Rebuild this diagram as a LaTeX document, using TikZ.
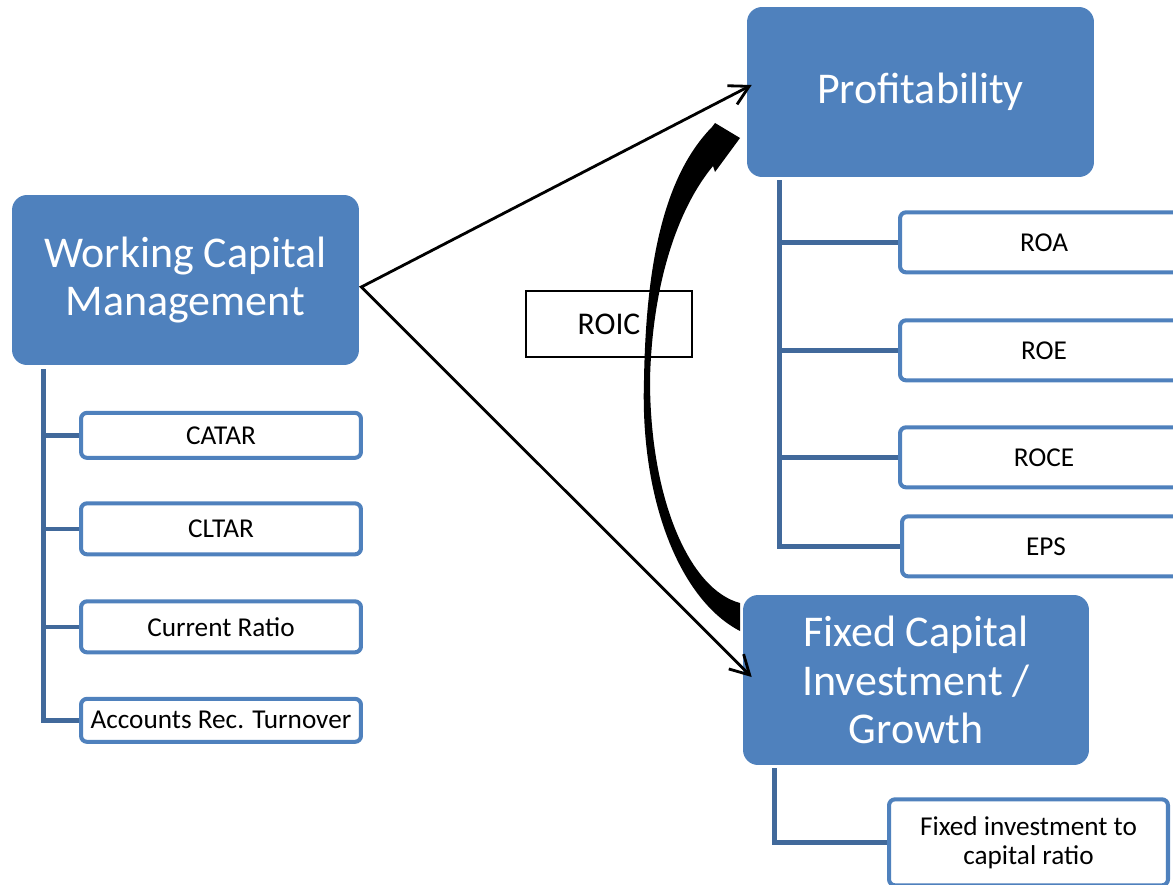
\documentclass[tikz,border=0pt]{standalone}
\usepackage{fontspec}
\setmainfont{Carlito}
\usetikzlibrary{arrows.meta, calc}
\definecolor{boxblue}{HTML}{4F81BD}
\definecolor{lineblue}{HTML}{41699B}
\tikzset{
    my-main-box/.style={
        rectangle, rounded corners=0.3cm, fill=boxblue, text=white, align=center,
        minimum width=6.94cm, minimum height=3.4cm, inner sep=0pt,
        font=\fontsize{25}{27.8}\selectfont
    },
    my-sub-box/.style={
        rectangle, rounded corners=0.12cm, draw=boxblue, line width=2.3pt, fill=white,
        align=center, inner sep=0pt, font=\fontsize{15.5}{16.5}\selectfont
    },
    my-roic-box/.style={
        rectangle, draw=black, line width=1pt, inner sep=0pt,
        minimum width=3.32cm, minimum height=1.32cm, font=\fontsize{18}{20}\selectfont
    },
    my-tree-line/.style={
        draw=lineblue, line width=2.5pt
    },
    my-link-arrow/.style={
        line width=1.6pt, line join=miter,
        {Straight Barb[length=3.8mm, width=4.2mm]}-{Straight Barb[length=3.8mm, width=4.2mm]}
    },
}
\begin{document}
\begin{tikzpicture}[x=0.02cm, y=-0.02cm]

        % PAGE
        \useasboundingbox (0, 0) rectangle (1173, 885);
        \clip (0, 0) rectangle (1173, 885);

        % MAIN BOXES
        \node[my-main-box]                      (WCM)  at (185.5, 280) {Working Capital\\Management};
        \node[my-main-box]                      (PROF) at (920.5, 92)  {Profitability};
        \node[my-main-box, minimum width=6.92cm] (FCI)  at (916, 680)   {Fixed Capital\\Investment /\\Growth};

        % WORKING CAPITAL RATIOS
        \node[my-sub-box, minimum width=5.6cm, minimum height=0.9cm]  (CATAR)  at ($(WCM.south) + (35.5, 70)$) {CATAR};
        \node[my-sub-box, minimum width=5.6cm, minimum height=1.02cm] (CLTAR)  at ($(CATAR) + (0, 93.5)$)      {CLTAR};
        \node[my-sub-box, minimum width=5.6cm, minimum height=1.02cm] (CURR)   at ($(CLTAR) + (0, 98)$)        {Current Ratio};
        \node[my-sub-box, minimum width=5.6cm, minimum height=0.86cm] (ACCREC) at ($(CURR) + (0, 93.5)$)       {Accounts Rec. Turnover};

        % PROFITABILITY RATIOS
        \node[my-sub-box, minimum width=5.76cm, minimum height=1.2cm] (ROA)  at ($(PROF.south) + (123.5, 65)$) {ROA};
        \node[my-sub-box, minimum width=5.76cm, minimum height=1.2cm] (ROE)  at ($(ROA) + (0, 108)$)           {ROE};
        \node[my-sub-box, minimum width=5.76cm, minimum height=1.2cm] (ROCE) at ($(ROE) + (0, 107)$)           {ROCE};
        \node[my-sub-box, minimum width=5.76cm, minimum height=1.2cm] (EPS)  at ($(ROCE) + (2, 89)$)           {EPS};

        % GROWTH RATIO
        \node[my-sub-box, minimum width=5.58cm, minimum height=1.72cm] (FIX) at ($(FCI.south) + (112.5, 77)$) {Fixed investment to\\capital ratio};

        % TREE LINES - WORKING CAPITAL
        \coordinate (WCMTRUNK) at ($(WCM.south west) + (32, 4)$);
        \draw[my-tree-line] (WCMTRUNK) |- (ACCREC.west);
        \draw[my-tree-line] (WCMTRUNK |- CATAR.west) -- (CATAR.west);
        \draw[my-tree-line] (WCMTRUNK |- CLTAR.west) -- (CLTAR.west);
        \draw[my-tree-line] (WCMTRUNK |- CURR.west)  -- (CURR.west);

        % TREE LINES - PROFITABILITY
        \coordinate (PROFTRUNK) at ($(PROF.south west) + (33, 3)$);
        \draw[my-tree-line] (PROFTRUNK) |- (EPS.west);
        \draw[my-tree-line] (PROFTRUNK |- ROA.west)  -- (ROA.west);
        \draw[my-tree-line] (PROFTRUNK |- ROE.west)  -- (ROE.west);
        \draw[my-tree-line] (PROFTRUNK |- ROCE.west) -- (ROCE.west);

        % TREE LINE - GROWTH
        \coordinate (FCITRUNK) at ($(FCI.south west) + (32, 3)$);
        \draw[my-tree-line] (FCITRUNK) |- (FIX.west);

        % ROIC LABEL
        \node[my-roic-box] (ROIC) at (609, 324) {ROIC};

        % CURVED ARROW FROM GROWTH TO PROFITABILITY
        \fill (740, 631) .. controls (680, 600) and (640, 500) .. (644, 380)
                         .. controls (646, 260) and (665, 175) .. (712, 127)
              -- (715, 123) -- (740, 138) -- (715, 172) -- (713, 166)
                         .. controls (675, 212) and (652, 290) .. (650, 380)
                         .. controls (650, 500) and (690, 590) .. (740, 603) -- cycle;

        % LINKS FROM WORKING CAPITAL
        \coordinate (WCMOUT) at ($(WCM.east) + (2, 7)$);
        \coordinate (PROFIN) at ($(PROF.west) + (5, -7)$);
        \coordinate (FCIIN)  at ($(FCI.west) + (9, -3)$);
        \draw[my-link-arrow] (PROFIN) -- (WCMOUT) -- (FCIIN);

    \end{tikzpicture}
\end{document}
